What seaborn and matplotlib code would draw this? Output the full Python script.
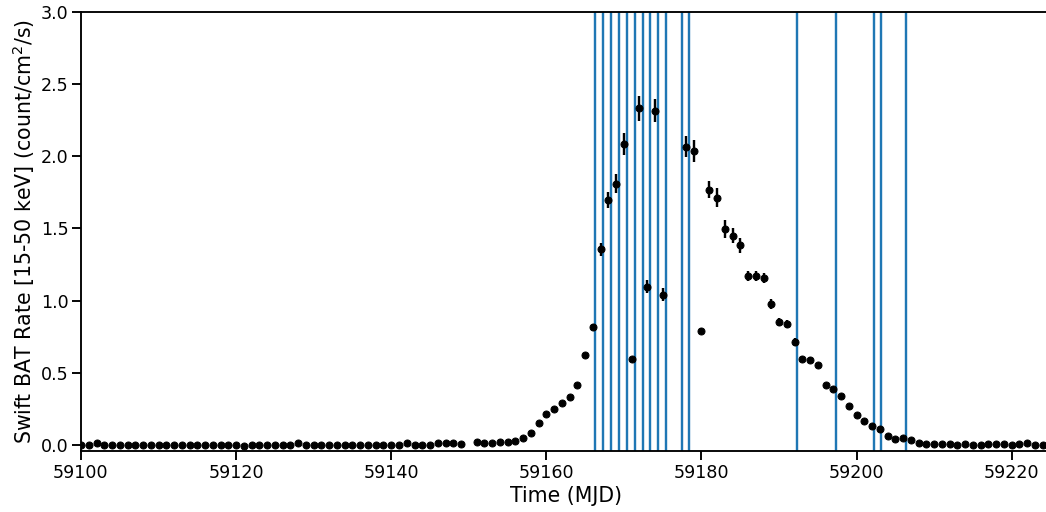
import numpy as np
import pandas as pd
import matplotlib
matplotlib.use("Agg")
import matplotlib.pyplot as plt
import seaborn as sns

# daily Swift BAT light curve (MJD, rate, error)
days_quiet = list(range(59100, 59150))
rate_quiet = [0.0, 0.0, 0.01, 0.0, 0.0, 0.0, 0.0, 0.0, 0.0, 0.0,
              0.0, 0.0, 0.0, 0.0, 0.0, 0.0, 0.0, 0.0, 0.0, 0.0,
              0.0, -0.007, 0.0, 0.0, 0.0, 0.0, 0.0, 0.0, 0.01, 0.0,
              0.0, 0.0, 0.0, 0.0, 0.0, 0.0, 0.0, 0.0, 0.0, 0.0,
              0.0, 0.0, 0.01, 0.0, 0.0, 0.0, 0.01, 0.01, 0.01, 0.007]

days_burst = list(range(59151, 59176)) + list(range(59178, 59225))
rate_burst = [0.021, 0.012, 0.012, 0.021, 0.021, 0.030, 0.046, 0.085, 0.150, 0.213,
              0.247, 0.293, 0.333, 0.414, 0.624, 0.820, 1.356, 1.698, 1.809, 2.086,
              0.594, 2.334, 1.097, 2.317, 1.040,
              2.067, 2.037, 0.788, 1.770, 1.714, 1.497, 1.450, 1.384, 1.173, 1.173,
              1.157, 0.975, 0.852, 0.839, 0.714, 0.598, 0.591, 0.552, 0.414, 0.386,
              0.340, 0.268, 0.210, 0.166, 0.131, 0.108, 0.062, 0.044, 0.048, 0.035,
              0.014, 0.007, 0.007, 0.007, 0.007, 0.002, 0.009, 0.002, 0.002, 0.009,
              0.005, 0.005, 0.002, 0.005, 0.016, 0.002, 0.002]
err_burst = [0.005, 0.005, 0.005, 0.005, 0.005, 0.006, 0.006, 0.007, 0.008, 0.009,
             0.01, 0.01, 0.011, 0.012, 0.014, 0.02, 0.046, 0.055, 0.066, 0.076,
             0.012, 0.087, 0.046, 0.077, 0.046,
             0.074, 0.075, 0.02, 0.059, 0.063, 0.06, 0.052, 0.052, 0.035, 0.035,
             0.035, 0.035, 0.03, 0.03, 0.025, 0.015, 0.015, 0.012, 0.01, 0.01,
             0.009, 0.008, 0.007, 0.007, 0.006, 0.006, 0.005, 0.005, 0.005, 0.005,
             0.005, 0.005, 0.005, 0.005, 0.005, 0.005, 0.005, 0.005, 0.005, 0.005,
             0.005, 0.005, 0.005, 0.005, 0.005, 0.005, 0.005]

# observation epochs marked as vertical lines
obs_mjd = [59166.25, 59167.3, 59168.3, 59169.35, 59170.38, 59171.4, 59172.4,
           59173.38, 59174.4, 59175.43, 59177.43, 59178.4, 59192.3, 59197.35,
           59202.2, 59203.2, 59206.35]

df = pd.DataFrame({
  "mjd": days_quiet + days_burst,
  "rate": rate_quiet + rate_burst,
  "err": [0.005] * len(days_quiet) + err_burst,
})

sns.set_theme(style="ticks", context="talk")
plt.rcParams["font.family"] = ["DejaVu Sans"]
plt.rcParams.update({
  "text.color": "black",
  "axes.labelcolor": "black",
  "axes.edgecolor": "black",
  "xtick.color": "black",
  "ytick.color": "black",
})

fig = plt.figure(figsize=(1046 / 72, 512 / 72), dpi=72)
ax = fig.add_axes([81 / 1046, 1 - 451 / 512, 969.5 / 1046, 439 / 512])

for t in obs_mjd:
  ax.axvline(t, color="#1f77b4", lw=2.4, zorder=1)

ax.errorbar(df["mjd"], df["rate"], yerr=df["err"], fmt="o", color="black",
            ms=7, elinewidth=2.4, capsize=0, zorder=3)

ax.set_xlim(59100, 59225)
ax.set_ylim(-0.042, 3.0)
ax.set_xticks(np.arange(59100, 59221, 20))
ax.set_yticks(np.arange(0, 3.01, 0.5))
ax.tick_params(labelsize=17.5, length=9, width=1.9)
ax.set_xlabel("Time (MJD)", fontsize=20.5)
ax.set_ylabel("Swift BAT Rate [15-50 keV] (count/cm$^2$/s)", fontsize=20.5)

fig.savefig("out.png", dpi=72)
